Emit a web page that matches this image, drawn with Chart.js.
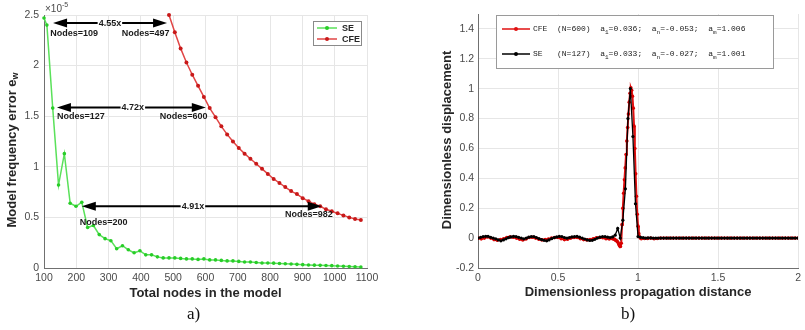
<!DOCTYPE html>
<html>
<head>
<meta charset="utf-8">
<script src="https://cdn.jsdelivr.net/npm/chart.js@4"></script>
<style>
body { margin: 0; background: #fff; width: 805px; height: 330px; position: relative; overflow: hidden; }
#wrapA { position: absolute; left: 0; top: 0; width: 400px; height: 330px; }
#wrapB { position: absolute; left: 400px; top: 0; width: 405px; height: 330px; }
.cap { position: absolute; top: 304px; font: 17px "Liberation Serif", serif; color: #111; }
</style>
</head>
<body>
<div id="wrapA"><canvas id="graphA" width="400" height="330"></canvas></div>
<div id="wrapB"><canvas id="graphB" width="405" height="330"></canvas></div>
<div class="cap" style="left:187px">a)</div>
<div class="cap" style="left:621px">b)</div>
<script>
// ---- panel a) : model frequency error vs nodes (values x 1e-5)
const seNodes = [100, 109, 127, 145, 163, 181, 199, 217, 235, 253, 271, 289, 307, 325, 343, 361, 379, 397, 415, 433,
  451, 469, 487, 505, 523, 541, 559, 577, 595, 613, 631, 649, 667, 685, 703, 721, 739, 757, 775, 793,
  811, 829, 847, 865, 883, 901, 919, 937, 955, 973, 991, 1009, 1027, 1045, 1063, 1081];
const seError = [2.47, 2.40, 1.58, 0.82, 1.13, 0.64, 0.61, 0.65, 0.40, 0.42, 0.33, 0.29, 0.27, 0.19, 0.22, 0.18, 0.15, 0.17, 0.13, 0.13,
  0.11, 0.10, 0.10, 0.10, 0.095, 0.09, 0.09, 0.085, 0.09, 0.08, 0.08, 0.075, 0.07, 0.07, 0.065, 0.06, 0.06, 0.055, 0.05, 0.05,
  0.048, 0.045, 0.042, 0.04, 0.036, 0.033, 0.03, 0.028, 0.026, 0.025, 0.023, 0.02, 0.018, 0.015, 0.013, 0.01];
const cfeNodes = [487, 505, 523, 541, 559, 577, 595, 613, 631, 649, 667, 685, 703, 721, 739, 757, 775, 793, 811, 829,
  847, 865, 883, 901, 919, 937, 955, 973, 991, 1009, 1027, 1045, 1063, 1081];
const cfeError = [2.50, 2.33, 2.17, 2.03, 1.91, 1.80, 1.69, 1.58, 1.49, 1.40, 1.32, 1.25, 1.185, 1.13, 1.08, 1.03, 0.98, 0.93, 0.88, 0.84,
  0.80, 0.76, 0.73, 0.69, 0.66, 0.63, 0.61, 0.58, 0.56, 0.54, 0.52, 0.50, 0.485, 0.475];

// arrows drawn over panel a) (data coordinates)
const arrowNotes = [
  { y: 2.42, from: 128, to: 481, ratio: '4.55x', ratioAt: 304, labelY: 2.32, leftText: 'Nodes=109', leftX: 119, rightText: 'Nodes=497', rightX: 341 },
  { y: 1.587, from: 140, to: 601, ratio: '4.72x', ratioAt: 375, labelY: 1.5, leftText: 'Nodes=127', leftX: 140, rightText: 'Nodes=600', rightX: 458 },
  { y: 0.61, from: 217, to: 960, ratio: '4.91x', ratioAt: 561, labelY: 0.45, leftText: 'Nodes=200', leftX: 211, rightText: 'Nodes=982', rightX: 846, rightY: 0.525 }
];

// ---- panel b) : displacement vs propagation distance
const seDist = [0, 0.016, 0.032, 0.048, 0.063, 0.079, 0.095, 0.111, 0.127, 0.143, 0.159, 0.175, 0.19, 0.206, 0.222, 0.238,
  0.254, 0.27, 0.286, 0.302, 0.317, 0.333, 0.349, 0.365, 0.381, 0.397, 0.413, 0.429, 0.444, 0.46, 0.476, 0.492,
  0.508, 0.524, 0.54, 0.556, 0.571, 0.587, 0.603, 0.619, 0.635, 0.651, 0.667, 0.683, 0.698, 0.714, 0.73, 0.746,
  0.762, 0.778, 0.794, 0.81, 0.825, 0.841, 0.857, 0.873, 0.889, 0.905, 0.921, 0.937, 0.952, 0.968, 0.984, 1,
  1.016, 1.032, 1.048, 1.063, 1.079, 1.095, 1.111, 1.127, 1.143, 1.159, 1.175, 1.19, 1.206, 1.222, 1.238,
  1.254, 1.27, 1.286, 1.302, 1.317, 1.333, 1.349, 1.365, 1.381, 1.397, 1.413, 1.429, 1.444, 1.46, 1.476, 1.492,
  1.508, 1.524, 1.54, 1.556, 1.571, 1.587, 1.603, 1.619, 1.635, 1.651, 1.667, 1.683, 1.698, 1.714, 1.73, 1.746,
  1.762, 1.778, 1.794, 1.81, 1.825, 1.841, 1.857, 1.873, 1.889, 1.905, 1.921, 1.937, 1.952, 1.968, 1.984, 2];
const seDisp = [0, 0.005, 0.01, 0.012, 0.012, 0.005, 0, -0.005, -0.012, -0.018,
  -0.012, -0.005, 0.003, 0.008, 0.012, 0.01, 0.005, 0, -0.005, 0,
  0.006, 0.01, 0.01, 0.004, -0.003, -0.01, -0.015, -0.018, -0.012, -0.004,
  0.003, 0.008, 0.012, 0.01, 0.004, 0, 0.004, 0.008, 0.01, 0.012,
  0.006, 0, -0.006, -0.012, -0.016, -0.015, -0.008, 0, 0.006, 0.01,
  0.01, 0.006, 0.004, 0.008, 0.02, 0.065, 0, 0.12, 0.33, 0.8,
  1.001, 0.68, 0.23, 0.01, 0.005, 0.003, 0,
  0.002, 0.001, 0, 0, 0, 0, 0, 0, 0, 0,
  0, 0, 0, 0, 0, 0, 0, 0, 0, 0,
  0, 0, 0, 0, 0, 0, 0, 0, 0, 0,
  0, 0, 0, 0, 0, 0, 0, 0, 0, 0,
  0, 0, 0, 0, 0, 0, 0, 0, 0, 0,
  0, 0, 0, 0, 0, 0, 0, 0, 0, 0];
const cfeDist = [0, 0.02, 0.04, 0.06, 0.08, 0.1, 0.12, 0.14, 0.16, 0.18, 0.2, 0.22, 0.24, 0.26, 0.28, 0.3, 0.32, 0.34,
  0.36, 0.38, 0.4, 0.42, 0.44, 0.46, 0.48, 0.5, 0.52, 0.54, 0.56, 0.58, 0.6, 0.62, 0.64, 0.66, 0.68, 0.7,
  0.72, 0.74, 0.76, 0.78, 0.8, 0.82, 0.84,
  0.845, 0.85, 0.855, 0.86, 0.865, 0.87, 0.875, 0.88, 0.885, 0.89, 0.895, 0.9, 0.905, 0.91, 0.915, 0.92,
  0.925, 0.93, 0.935, 0.94, 0.945, 0.95, 0.955, 0.96, 0.965, 0.97, 0.975, 0.98, 0.985, 0.99, 0.995, 1,
  1.005, 1.01, 1.015, 1.02,
  1.04, 1.06, 1.08, 1.1, 1.12, 1.14, 1.16, 1.18, 1.2, 1.22, 1.24, 1.26, 1.28, 1.3, 1.32, 1.34, 1.36, 1.38,
  1.4, 1.42, 1.44, 1.46, 1.48, 1.5, 1.52, 1.54, 1.56, 1.58, 1.6, 1.62, 1.64, 1.66, 1.68, 1.7, 1.72, 1.74,
  1.76, 1.78, 1.8, 1.82, 1.84, 1.86, 1.88, 1.9, 1.92, 1.94, 1.96, 1.98, 2];
const cfeDisp = [0, -0.005, 0, 0.008, 0, -0.01, -0.014, -0.01, -0.004, 0.004,
  0.008, 0.006, 0, -0.008, -0.012, -0.006, 0.004, 0.006, 0, -0.008,
  -0.012, -0.01, -0.006, 0, 0.004, 0.004, -0.004, -0.01, -0.008, 0,
  0.004, 0.004, -0.004, -0.01, -0.012, -0.01, -0.004, 0.002, 0.004, 0.002,
  -0.004, -0.006, -0.004,
  -0.004, -0.006, -0.01, -0.014, -0.018, -0.022, -0.03, -0.042, -0.052, -0.056,
  -0.035, 0.09, 0.2, 0.3, 0.39, 0.47, 0.56, 0.65, 0.74, 0.83,
  0.91, 0.97, 1.006, 0.99, 0.95, 0.87, 0.75, 0.6, 0.43, 0.28,
  0.16, 0.08, 0.03, 0.008, 0, -0.004,
  -0.003, -0.002, 0, -0.004, -0.003, 0, 0, 0, 0, 0,
  0, 0, 0, 0, 0, 0, 0, 0, 0, 0,
  0, 0, 0, 0, 0, 0, 0, 0, 0, 0,
  0, 0, 0, 0, 0, 0, 0, 0, 0, 0,
  0, 0, 0, 0, 0, 0, 0, 0, 0];

const legendB = [
  { color: '#e01010', parts: [['CFE  (N=600)  a'], ['1', 1], ['=0.036;  a'], ['n', 1], ['=-0.053;  a'], ['m', 1], ['=1.006']] },
  { color: '#000000', parts: [['SE   (N=127)  a'], ['1', 1], ['=0.033;  a'], ['n', 1], ['=-0.027;  a'], ['m', 1], ['=1.001']] }
];

const sans = '"Liberation Sans", Arial, sans-serif';
const tickFont = { family: sans, size: 10.5 };
const gridCol = '#e6e6e6';
const axisCol = '#707070';
const plainNum = v => String(Number(v.toFixed(2)));

function toXY(xs, ys) {
  return xs.map((x, i) => ({ x: x, y: ys[i] }));
}

function drawArrow(ctx, x1, x2, y, label, cx) {
  ctx.font = 'bold 9px ' + sans;
  const w = ctx.measureText(label).width;
  ctx.strokeStyle = '#000';
  ctx.lineWidth = 2;
  ctx.beginPath();
  ctx.moveTo(x1 + 10, y); ctx.lineTo(cx - w / 2 - 1, y);
  ctx.moveTo(cx + w / 2 + 1, y); ctx.lineTo(x2 - 10, y);
  ctx.stroke();
  ctx.fillStyle = '#000';
  ctx.beginPath(); ctx.moveTo(x1, y); ctx.lineTo(x1 + 14, y - 4.5); ctx.lineTo(x1 + 14, y + 4.5); ctx.closePath(); ctx.fill();
  ctx.beginPath(); ctx.moveTo(x2, y); ctx.lineTo(x2 - 14, y - 4.5); ctx.lineTo(x2 - 14, y + 4.5); ctx.closePath(); ctx.fill();
  ctx.fillStyle = '#1a1a1a';
  ctx.textAlign = 'center';
  ctx.textBaseline = 'middle';
  ctx.fillText(label, cx, y);
}

// extra drawing for panel a): titles, exponent, arrows, legend
const decorA = {
  id: 'decorA',
  afterDraw(chart) {
    const ctx = chart.ctx, area = chart.chartArea;
    const xs = chart.scales.x, ys = chart.scales.y;
    ctx.save();
    // x title
    ctx.fillStyle = '#262626';
    ctx.font = 'bold 13px ' + sans;
    ctx.textAlign = 'center';
    ctx.textBaseline = 'middle';
    ctx.fillText('Total nodes in the model', (area.left + area.right) / 2, 293);
    // y title with subscript
    ctx.save();
    ctx.translate(12, 150);
    ctx.rotate(-Math.PI / 2);
    const main = 'Model frequency error e';
    const wMain = ctx.measureText(main).width;
    ctx.font = 'bold 9px ' + sans;
    const wSub = ctx.measureText('w').width;
    const x0 = -(wMain + wSub) / 2;
    ctx.textAlign = 'left';
    ctx.font = 'bold 13px ' + sans;
    ctx.fillText(main, x0, 0);
    ctx.font = 'bold 9px ' + sans;
    ctx.fillText('w', x0 + wMain, 4);
    ctx.restore();
    // exponent
    ctx.fillStyle = '#4a4a4a';
    ctx.textAlign = 'left';
    ctx.font = '10px ' + sans;
    ctx.fillText('\u00d710', area.left + 1, 9);
    const wx = ctx.measureText('\u00d710').width;
    ctx.font = '7px ' + sans;
    ctx.fillText('-5', area.left + 1 + wx, 5);
    // arrows
    arrowNotes.forEach(n => {
      const y = ys.getPixelForValue(n.y);
      drawArrow(ctx, xs.getPixelForValue(n.from), xs.getPixelForValue(n.to), y, n.ratio, xs.getPixelForValue(n.ratioAt));
      ctx.font = 'bold 9px ' + sans;
      ctx.textAlign = 'left';
      ctx.fillStyle = '#1a1a1a';
      ctx.fillText(n.leftText, xs.getPixelForValue(n.leftX), ys.getPixelForValue(n.labelY));
      ctx.fillText(n.rightText, xs.getPixelForValue(n.rightX), ys.getPixelForValue(n.rightY !== undefined ? n.rightY : n.labelY));
    });
    // legend box
    const bx = area.right - 54, by = area.top + 6;
    ctx.fillStyle = '#fff';
    ctx.fillRect(bx, by, 48, 24);
    ctx.strokeStyle = '#8a8a8a';
    ctx.lineWidth = 1;
    ctx.strokeRect(bx + 0.5, by + 0.5, 48, 24);
    chart.data.datasets.forEach((ds, i) => {
      const ly = by + 7 + i * 11;
      ctx.strokeStyle = ds.borderColor;
      ctx.lineWidth = 1.5;
      ctx.beginPath(); ctx.moveTo(bx + 4, ly); ctx.lineTo(bx + 24, ly); ctx.stroke();
      ctx.fillStyle = ds.pointBackgroundColor;
      ctx.beginPath(); ctx.arc(bx + 14, ly, 2, 0, Math.PI * 2); ctx.fill();
      ctx.fillStyle = '#262626';
      ctx.font = 'bold 9px ' + sans;
      ctx.textAlign = 'left';
      ctx.textBaseline = 'middle';
      ctx.fillText(ds.label, bx + 29, ly + 0.5);
    });
    ctx.restore();
  }
};

// extra drawing for panel b): titles and legend with subscripts
const decorB = {
  id: 'decorB',
  afterDraw(chart) {
    const ctx = chart.ctx, area = chart.chartArea;
    ctx.save();
    ctx.fillStyle = '#262626';
    ctx.font = 'bold 13px ' + sans;
    ctx.textAlign = 'center';
    ctx.textBaseline = 'middle';
    ctx.fillText('Dimensionless propagation distance', (area.left + area.right) / 2, 292);
    ctx.save();
    ctx.translate(47, 140);
    ctx.rotate(-Math.PI / 2);
    ctx.fillText('Dimensionless displacement', 0, 0);
    ctx.restore();
    // legend
    const bx = area.left + 18, by = area.top + 1, bw = 277, bh = 53;
    ctx.fillStyle = '#fff';
    ctx.fillRect(bx, by, bw, bh);
    ctx.strokeStyle = '#9a9a9a';
    ctx.lineWidth = 1;
    ctx.strokeRect(bx + 0.5, by + 0.5, bw, bh);
    legendB.forEach((item, i) => {
      const ly = by + 14 + i * 25;
      ctx.strokeStyle = item.color;
      ctx.lineWidth = 1.5;
      ctx.beginPath(); ctx.moveTo(bx + 6, ly); ctx.lineTo(bx + 34, ly); ctx.stroke();
      ctx.fillStyle = item.color;
      ctx.beginPath(); ctx.arc(bx + 20, ly, 2, 0, Math.PI * 2); ctx.fill();
      let tx = bx + 37;
      ctx.fillStyle = '#222';
      ctx.textAlign = 'left';
      ctx.textBaseline = 'middle';
      item.parts.forEach(p => {
        ctx.font = (p[1] ? '6px' : '8px') + ' "Liberation Mono", monospace';
        ctx.fillText(p[0], tx, ly + (p[1] ? 3 : 0));
        tx += ctx.measureText(p[0]).width;
      });
    });
    ctx.restore();
  }
};

const chartA = new Chart(document.getElementById('graphA').getContext('2d'), {
  type: 'line',
  data: {
    datasets: [{
      label: 'SE',
      data: toXY(seNodes, seError),
      borderColor: 'rgb(90,225,90)',
      borderWidth: 1.5,
      pointBackgroundColor: 'rgb(40,205,40)',
      pointBorderWidth: 0,
      pointRadius: 1.8,
      clip: false
    }, {
      label: 'CFE',
      data: toXY(cfeNodes, cfeError),
      borderColor: 'rgb(225,70,70)',
      borderWidth: 1.5,
      pointBackgroundColor: 'rgb(200,25,25)',
      pointBorderWidth: 0,
      pointRadius: 2,
      clip: false
    }]
  },
  options: {
    responsive: false,
    animation: false,
    devicePixelRatio: 1,
    events: [],
    layout: { padding: { left: 0, right: 33, top: 15, bottom: 0 } },
    plugins: { legend: { display: false }, tooltip: { enabled: false } },
    scales: {
      x: {
        type: 'linear', min: 100, max: 1100,
        ticks: { stepSize: 100, font: tickFont, color: '#4a4a4a', padding: 4, maxRotation: 0, callback: plainNum },
        grid: { color: gridCol, drawTicks: false },
        border: { color: axisCol },
        afterFit: s => { s.height = 62; }
      },
      y: {
        min: 0, max: 2.5,
        ticks: { stepSize: 0.5, font: tickFont, color: '#4a4a4a', padding: 5, callback: plainNum },
        grid: { color: gridCol, drawTicks: false },
        border: { color: axisCol },
        afterFit: s => { s.width = 44; }
      }
    }
  },
  plugins: [decorA]
});

const chartB = new Chart(document.getElementById('graphB').getContext('2d'), {
  type: 'line',
  data: {
    datasets: [{
      label: 'SE',
      data: toXY(seDist, seDisp),
      borderColor: '#000',
      borderWidth: 1.3,
      pointBackgroundColor: '#000',
      pointBorderWidth: 0,
      pointRadius: 1.6
    }, {
      label: 'CFE',
      data: toXY(cfeDist, cfeDisp),
      borderColor: '#e01010',
      borderWidth: 2,
      pointBackgroundColor: '#d80000',
      pointBorderWidth: 0,
      pointRadius: 1.8
    }]
  },
  options: {
    responsive: false,
    animation: false,
    devicePixelRatio: 1,
    events: [],
    layout: { padding: { left: 0, right: 5, top: 14, bottom: 0 } },
    plugins: { legend: { display: false }, tooltip: { enabled: false } },
    scales: {
      x: {
        type: 'linear', min: 0, max: 2,
        ticks: { stepSize: 0.5, font: tickFont, color: '#4a4a4a', padding: 4, maxRotation: 0, callback: plainNum },
        grid: { color: gridCol, drawTicks: false },
        border: { color: axisCol },
        afterFit: s => { s.height = 62; }
      },
      y: {
        min: -0.2, max: 1.5,
        ticks: { stepSize: 0.2, includeBounds: false, font: tickFont, color: '#4a4a4a', padding: 4, callback: plainNum },
        grid: { color: gridCol, drawTicks: false },
        border: { color: axisCol },
        afterFit: s => { s.width = 78; }
      }
    }
  },
  plugins: [decorB]
});
</script>
</body>
</html>
